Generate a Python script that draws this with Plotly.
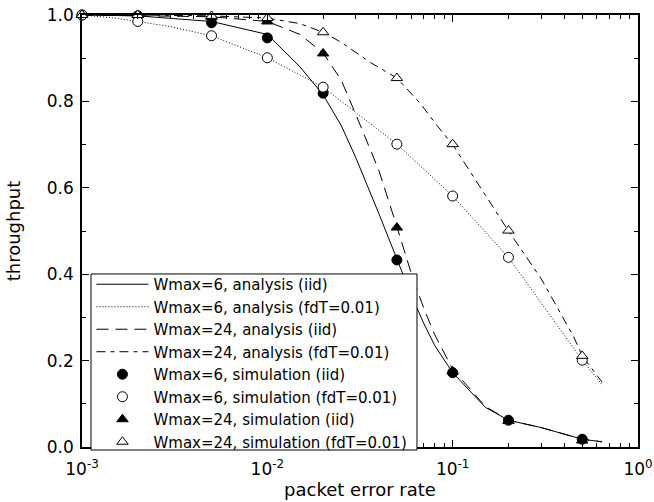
import plotly.graph_objects as go

# analysis curves
per_a = [0.001, 0.002, 0.005, 0.01, 0.015, 0.02, 0.025, 0.03, 0.04, 0.05, 0.06, 0.07, 0.08, 0.1, 0.15, 0.2, 0.3, 0.5, 0.64]
w6_iid_an = [1.0, 0.998, 0.985, 0.955, 0.88, 0.815, 0.745, 0.67, 0.54, 0.435, 0.35, 0.285, 0.235, 0.172, 0.092, 0.062, 0.045, 0.018, 0.012]
w24_iid_an = [1.0, 0.999, 0.996, 0.985, 0.955, 0.912, 0.85, 0.77, 0.64, 0.51, 0.40, 0.32, 0.26, 0.18, 0.094, 0.062, 0.045, 0.018, 0.012]

per_f = [0.001, 0.0015, 0.002, 0.003, 0.005, 0.01, 0.02, 0.05, 0.1, 0.2, 0.5, 0.64]
w6_fd_an = [1.0, 0.993, 0.985, 0.973, 0.952, 0.901, 0.833, 0.701, 0.581, 0.439, 0.201, 0.144]

per_g = [0.001, 0.002, 0.005, 0.01, 0.015, 0.02, 0.025, 0.036, 0.05, 0.067, 0.082, 0.1, 0.156, 0.2, 0.3, 0.45, 0.5, 0.64]
w24_fd_an = [1.0, 1.0, 0.998, 0.993, 0.98, 0.96, 0.937, 0.89, 0.854, 0.795, 0.745, 0.70, 0.572, 0.50, 0.39, 0.255, 0.211, 0.15]

# simulation points
per_s = [0.001, 0.002, 0.005, 0.01, 0.02, 0.05, 0.1, 0.2, 0.5]
w6_iid_sim = [1.0, 0.998, 0.982, 0.947, 0.819, 0.433, 0.172, 0.062, 0.018]
w6_fd_sim = [1.0, 0.985, 0.952, 0.901, 0.833, 0.701, 0.581, 0.439, 0.201]
w24_iid_sim = [1.0, 1.0, 0.996, 0.985, 0.911, 0.508, 0.175, 0.06, 0.015]
w24_fd_sim = [1.0, 1.0, 0.998, 0.993, 0.96, 0.854, 0.701, 0.501, 0.211]

xticks = [0.001, 0.01, 0.1, 1]
xticktext = ["10<sup>-3</sup>", "10<sup>-2</sup>", "10<sup>-1</sup>", "10<sup>0</sup>"]
minor_x = [m * 10 ** e for e in (-3, -2, -1) for m in range(2, 10)]

FONT = "DejaVu Sans, Liberation Sans, Arial, sans-serif"

fig = go.Figure()
lw = 1
fig.add_trace(go.Scatter(x=per_a, y=w6_iid_an, mode="lines", name="Wmax=6, analysis (iid)",
                         line=dict(color="black", width=lw, dash="solid")))
fig.add_trace(go.Scatter(x=per_f, y=w6_fd_an, mode="lines", name="Wmax=6, analysis (fdT=0.01)",
                         line=dict(color="black", width=lw, dash="1px,2px")))
fig.add_trace(go.Scatter(x=per_a, y=w24_iid_an, mode="lines", name="Wmax=24, analysis (iid)",
                         line=dict(color="black", width=lw, dash="12px,7px")))
fig.add_trace(go.Scatter(x=per_g, y=w24_fd_an, mode="lines", name="Wmax=24, analysis (fdT=0.01)",
                         line=dict(color="black", width=lw, dash="9px,5px,4px,5px")))

ms = 10
marker_specs = [
    (w6_iid_sim, "Wmax=6, simulation (iid)", "circle", "black"),
    (w6_fd_sim, "Wmax=6, simulation (fdT=0.01)", "circle", "white"),
    (w24_iid_sim, "Wmax=24, simulation (iid)", "triangle-up", "black"),
    (w24_fd_sim, "Wmax=24, simulation (fdT=0.01)", "triangle-up", "white"),
]
for yv, nm, sym, fill in marker_specs:
    fig.add_trace(go.Scatter(x=per_s, y=yv, mode="markers", name=nm, cliponaxis=False,
                             marker=dict(symbol=sym, size=ms, color=fill, line=dict(color="black", width=1))))

# legend frame (white box that hides curves behind the legend)
fig.add_shape(type="rect", xref="paper", yref="paper", x0=0.0162, x1=0.6025, y0=-0.007, y1=0.4005,
              line=dict(color="black", width=1), fillcolor="white", layer="above")

fig.update_layout(
    width=654, height=502,
    margin=dict(l=82, r=16, t=15, b=55, autoexpand=False),
    paper_bgcolor="white", plot_bgcolor="white",
    font=dict(family=FONT, size=17, color="black"),
    showlegend=True,
    legend=dict(x=0.017, y=0.4144, xanchor="left", yanchor="top",
                bgcolor="rgba(0,0,0,0)", borderwidth=0,
                font=dict(family=FONT, size=15), itemwidth=52, tracegroupgap=0),
)
fig.update_xaxes(type="log", range=[-3, 0], tickmode="array", tickvals=xticks, ticktext=xticktext,
                 showline=True, linecolor="black", linewidth=1.5, mirror="allticks", automargin=False,
                 ticks="inside", ticklen=7, tickcolor="black", showgrid=False, zeroline=False,
                 ticklabelstandoff=6,
                 minor=dict(ticks="inside", ticklen=4, tickcolor="black", tickmode="array", tickvals=minor_x, showgrid=False),
                 title=dict(text="packet error rate", font=dict(size=18), standoff=4))
fig.update_yaxes(range=[0, 1], dtick=0.2, tickformat=".1f", automargin=False,
                 showline=True, linecolor="black", linewidth=1.5, mirror="allticks",
                 ticks="inside", ticklen=7, tickcolor="black", showgrid=False, zeroline=False,
                 ticklabelstandoff=3,
                 minor=dict(ticks="inside", ticklen=4, tickcolor="black", dtick=0.1, showgrid=False),
                 title=dict(text="throughput", font=dict(size=18), standoff=22))

fig.write_html("out.html", config={"displayModeBar": False},
               post_script="document.body.style.margin='0';")
